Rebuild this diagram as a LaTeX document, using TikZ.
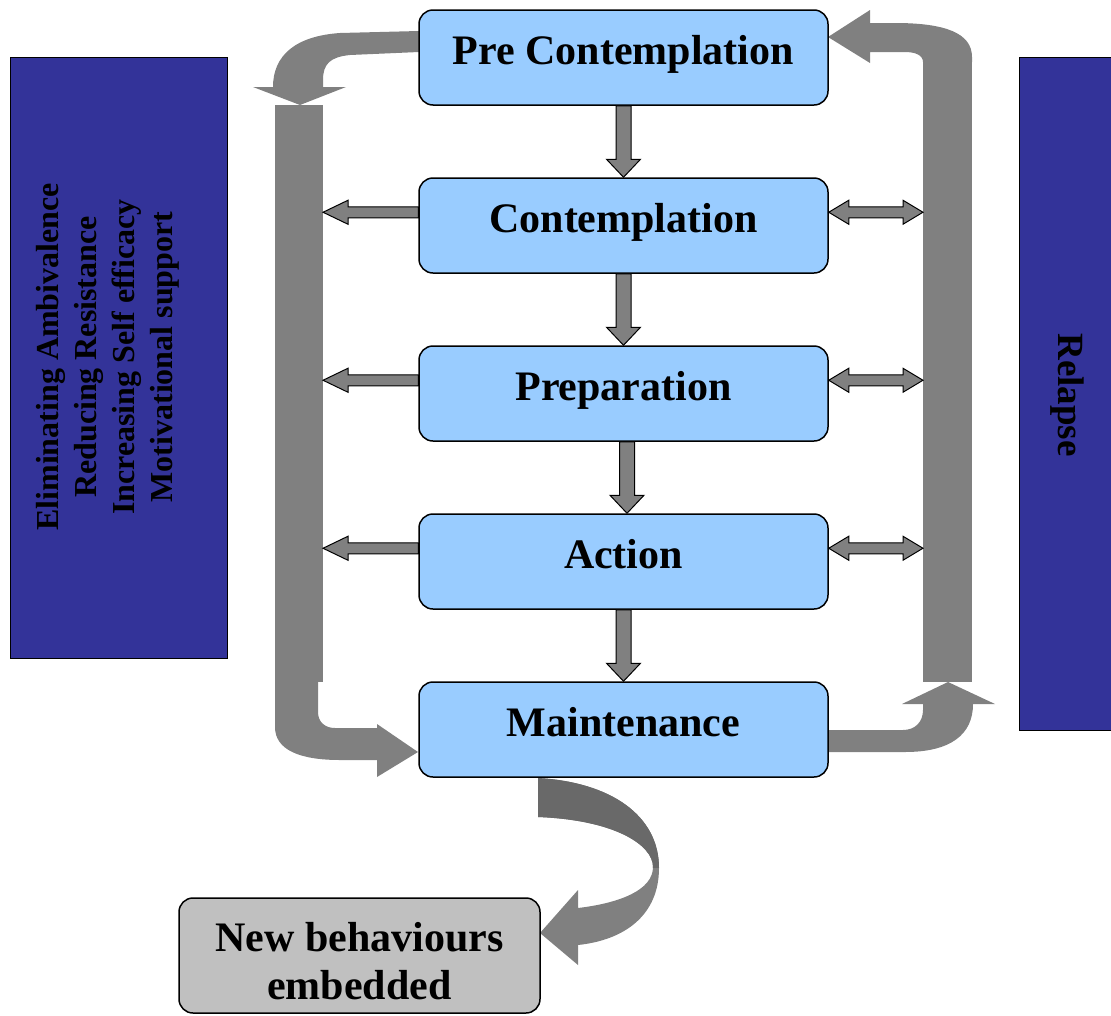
\documentclass[tikz,border=0pt]{standalone}
\usepackage{fontspec}
\setmainfont{Liberation Serif}
\usetikzlibrary{calc}
\definecolor{stageblue}{HTML}{99CCFF}
\definecolor{navyfill}{HTML}{333399}
\definecolor{arrgray}{HTML}{808080}
\definecolor{ribbondark}{HTML}{696969}
\definecolor{boxgray}{HTML}{C0C0C0}
\tikzset{
 stagebox/.style={draw=black, line width=1.5pt, fill=stageblue, rounded corners=14pt, minimum width=409pt, minimum height=95pt, inner sep=0pt},
 stagetext/.style={font=\fontsize{42}{48}\selectfont\bfseries, anchor=base, inner sep=0pt},
 sidebox/.style={draw=black, line width=1pt, fill=navyfill, inner sep=0pt},
 bigarrow/.style={fill=arrgray},
 smallarrow/.style={draw=black, line width=1pt, fill=arrgray, line join=miter},
 grayband/.style={fill=arrgray, inner sep=0pt, outer sep=0pt},
}
\newcommand{\stagedown}[3]{%
 \draw[smallarrow] ($(#1.south)+(#3-7.5,0)$) -- ($(#2.north)+(#3-7.5,-18)$) -- ($(#2.north)+(#3-17,-18)$) -- ($(#2.north)+(#3,0)$) -- ($(#2.north)+(#3+17,-18)$) -- ($(#2.north)+(#3+7.5,-18)$) -- ($(#1.south)+(#3+7.5,0)$) -- cycle;}
\newcommand{\stageleft}[1]{%
 \coordinate (#1L) at ($(#1.north west)+(0,35)$);
 \coordinate (#1Lt) at (lbar.east |- #1L);
 \draw[smallarrow] ($(#1L)+(0,-5.5)$) -- ($(#1Lt)+(25,-5.5)$) -- ($(#1Lt)+(25,-12)$) -- (#1Lt) -- ($(#1Lt)+(25,12)$) -- ($(#1Lt)+(25,5.5)$) -- ($(#1L)+(0,5.5)$) -- cycle;}
\newcommand{\stageboth}[1]{%
 \coordinate (#1R) at ($(#1.north east)+(0,35)$);
 \coordinate (#1Rt) at (rbar.west |- #1R);
 \draw[smallarrow] (#1R) -- ($(#1R)+(20,-12)$) -- ($(#1R)+(20,-5.5)$) -- ($(#1Rt)+(-20,-5.5)$) -- ($(#1Rt)+(-20,-12)$) -- (#1Rt) -- ($(#1Rt)+(-20,12)$) -- ($(#1Rt)+(-20,5.5)$) -- ($(#1R)+(20,5.5)$) -- ($(#1R)+(20,12)$) -- cycle;}
\def\ribbonpath{(538,778) .. controls (610,782) and (659,815) .. (659,868) .. controls (659,915) and (625,940) .. (578,945) -- (578,965) -- (540,933) -- (578,890) -- (578,908) .. controls (620,903) and (653,890) .. (653,867) .. controls (653,845) and (615,820) .. (538,817) -- cycle}
\begin{document}
\begin{tikzpicture}[x=1pt,y=-1pt]
\useasboundingbox (0,0) rectangle (1111,1015);
\clip (0,0) rectangle (1111,1015);

% side panels
\node[sidebox, minimum width=217pt, minimum height=601pt] (left) at (118.5,357.5) {};
\node[font=\fontsize{32}{38}\selectfont\bfseries, align=center, rotate=90, inner sep=0pt] (lefttext) at (108,357)
 {Eliminating Ambivalence\\Reducing Resistance\\Increasing Self efficacy\\Motivational support};
\node[sidebox, minimum width=111pt, minimum height=673pt] (right) at (1074.5,393.5) {};
\node[font=\fontsize{37}{44}\selectfont\bfseries, rotate=-90, inner sep=0pt] (righttext) at (1067,395) {Relapse};

% gray bars
\node[grayband, minimum width=48pt, minimum height=577pt] (lbar) at (299,393.5) {};
\node[grayband, minimum width=49pt, minimum height=625pt] (rbar) at (947.5,369.5) {};

% big curved arrows
\fill[bigarrow] (419,31) -- (340,33) .. controls (296,36) and (273,55) .. (273,87) -- (253,87) -- (300,105) -- (346,87) -- (323,87) -- (323,80) .. controls (323,64) and (330,57) .. (350,55) -- (419,52) -- cycle;
\fill[bigarrow] (275,682) -- (275,727) .. controls (275,750) and (300,760) .. (340,760) -- (377,760) -- (377,777) -- (418,752) -- (377,724) -- (377,728) -- (335,728) .. controls (325,728) and (318,722) .. (318,712) -- (318,682) -- cycle;
\fill[bigarrow] (828,730) -- (903,730) .. controls (915,730) and (923,722) .. (923,710) -- (923,704) -- (902,704) -- (948,682) -- (995,704) -- (973,704) .. controls (973,735) and (950,752) .. (905,752) -- (828,752) -- cycle;
\fill[bigarrow] (972,62) -- (972,57) .. controls (972,33) and (945,23) .. (895,23) -- (870,23) -- (870,10) -- (828,37) -- (870,63) -- (870,52) -- (905,52) .. controls (915,52) and (923,55) .. (923,62) -- cycle;

% ribbon arrow to new behaviours
\fill[arrgray] \ribbonpath;
\begin{scope}
\clip (500,770) rectangle (700,867);
\fill[ribbondark] \ribbonpath;
\end{scope}

% stage boxes
\node[stagebox] (pc) at (623.5,57.5) {};
\node[stagebox] (c) at (623.5,225.5) {};
\node[stagebox] (p) at (623.5,393.5) {};
\node[stagebox] (a) at (623.5,561.5) {};
\node[stagebox] (m) at (623.5,729.5) {};
\node[stagetext] (pct) at ($(pc.north)+(0,55)$) {Pre Contemplation};
\node[stagetext] (ct) at ($(c.north)+(0,55)$) {Contemplation};
\node[stagetext] (pt) at ($(p.north)+(0,55)$) {Preparation};
\node[stagetext] (at) at ($(a.north)+(0,55)$) {Action};
\node[stagetext] (mt) at ($(m.north)+(0,55)$) {Maintenance};

% new behaviours box
\node[draw=black, line width=1.5pt, fill=boxgray, rounded corners=14pt, minimum width=361pt, minimum height=115pt, inner sep=0pt] (nb) at (359.5,955.5) {};
\node[font=\fontsize{42}{48}\selectfont\bfseries, align=center, inner sep=0pt, anchor=base] (nbt) at ($(nb.north)+(0,102)$) {New behaviours\\embedded};

% small arrows
\stagedown{pc}{c}{0}
\stagedown{c}{p}{0}
\stagedown{p}{a}{3.5}
\stagedown{a}{m}{0}
\stageleft{c}
\stageleft{p}
\stageleft{a}
\stageboth{c}
\stageboth{p}
\stageboth{a}
\end{tikzpicture}
\end{document}
